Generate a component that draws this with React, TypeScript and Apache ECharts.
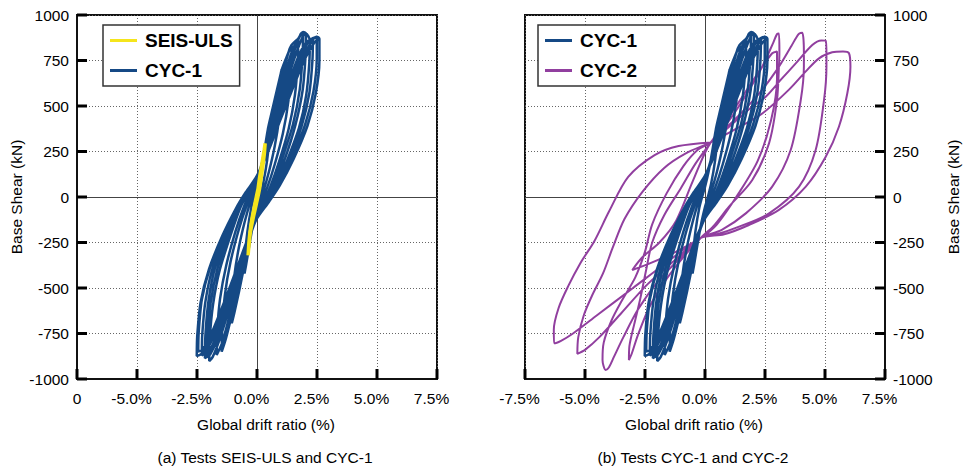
import React, { useEffect, useRef } from 'react';
import * as echarts from 'echarts';

const FONT = '"Liberation Sans", Arial, Helvetica, sans-serif';

// ---- ticks ----
const xTickValues = [-7.5, -5, -2.5, 0, 2.5, 5, 7.5];
const yTickValues = [-1000, -750, -500, -250, 0, 250, 500, 750, 1000];
const xTicksLeft = ['0', '-5.0%', '-2.5%', '0.0%', '2.5%', '5.0%', '7.5%'];
const xTicksRight = ['-7.5%', '-5.0%', '-2.5%', '0.0%', '2.5%', '5.0%', '7.5%'];
const yTicks = ['-1000', '-750', '-500', '-250', '0', '250', '500', '750', '1000'];

// ---- SEIS-ULS (drift %, base shear kN) ----
const seisUls: number[][] = [
  [0, 0], [0.1, 100], [0.2, 180], [0.3, 260], [0.34, 295], [0.3, 230], [0.2, 130], [0.1, 40],
  [-0.03, -40], [-0.15, -110], [-0.27, -190], [-0.33, -260], [-0.37, -320], [-0.33, -240],
  [-0.25, -150], [-0.14, -70], [-0.03, 0], [0.1, 80], [0.22, 170], [0.32, 270],
];

// ---- CYC-1 loops ----
const cyc1Loop1: number[][] = [
  [0.55, 430], [0.52, 330], [0.42, 200], [0.25, 70], [0.08, -20], [0, -55], [-0.15, -140], [-0.3, -250],
  [-0.45, -370], [-0.52, -420], [-0.5, -320], [-0.4, -190], [-0.24, -60], [-0.08, 20], [0, 55],
  [0.15, 140], [0.3, 250], [0.45, 370], [0.55, 430],
];
const cyc1Loop2: number[][] = [
  [1.03, 700], [1.01, 580], [0.92, 430], [0.74, 280], [0.5, 140], [0.25, 25], [0, -65], [-0.25, -200],
  [-0.5, -360], [-0.75, -520], [-0.95, -640], [-1.05, -694], [-1.03, -580], [-0.94, -430], [-0.76, -280],
  [-0.52, -140], [-0.27, -25], [0, 65], [0.25, 200], [0.5, 360], [0.75, 520], [0.95, 650], [1.03, 700],
];
const cyc1Loop3: number[][] = [
  [1.44, 835], [1.42, 710], [1.31, 530], [1.08, 350], [0.74, 180], [0.42, 50], [0.15, -35], [0, -85],
  [-0.3, -220], [-0.65, -420], [-1.0, -620], [-1.3, -780], [-1.47, -850], [-1.45, -725], [-1.34, -540],
  [-1.1, -355], [-0.76, -180], [-0.44, -50], [-0.16, 35], [0, 90], [0.3, 230], [0.65, 430], [1.0, 630],
  [1.3, 790], [1.44, 835],
];
const cyc1Loop4: number[][] = [
  [1.72, 870], [1.7, 745], [1.58, 560], [1.32, 375], [0.92, 195], [0.55, 55], [0.25, -35], [0, -100],
  [-0.32, -235], [-0.7, -430], [-1.1, -630], [-1.45, -800], [-1.68, -868], [-1.66, -740], [-1.54, -560],
  [-1.28, -375], [-0.9, -190], [-0.55, -55], [-0.25, 35], [0, 100], [0.32, 240], [0.7, 440], [1.1, 640],
  [1.45, 800], [1.72, 870],
];
const cyc1Loop5: number[][] = [
  [1.92, 906], [1.9, 780], [1.78, 590], [1.5, 400], [1.05, 210], [0.65, 60], [0.3, -30], [0, -110],
  [-0.35, -240], [-0.75, -430], [-1.15, -610], [-1.55, -780], [-1.85, -880], [-1.99, -901], [-1.97, -780],
  [-1.83, -590], [-1.55, -400], [-1.1, -210], [-0.7, -60], [-0.35, 30], [0, 110], [0.35, 240], [0.72, 430],
  [1.1, 610], [1.5, 780], [1.8, 890], [1.92, 906],
];
const cyc1Loop6: number[][] = [
  [2.04, 899], [2.02, 770], [1.9, 585], [1.6, 395], [1.15, 205], [0.7, 60], [0.35, -30], [0, -112],
  [-0.37, -242], [-0.78, -430], [-1.22, -615], [-1.65, -780], [-1.95, -865], [-2.08, -880], [-2.06, -770],
  [-1.93, -580], [-1.65, -395], [-1.18, -208], [-0.74, -60], [-0.37, 30], [0, 112], [0.37, 242], [0.78, 430],
  [1.2, 615], [1.62, 785], [1.92, 885], [2.04, 899],
];
const cyc1Loop7: number[][] = [
  [2.2, 862], [2.18, 740], [2.05, 560], [1.75, 380], [1.25, 200], [0.78, 60], [0.4, -30], [0, -115],
  [-0.38, -245], [-0.82, -430], [-1.3, -620], [-1.75, -780], [-2.05, -870], [-2.17, -886], [-2.15, -760],
  [-2.02, -570], [-1.75, -390], [-1.25, -205], [-0.78, -60], [-0.4, 30], [0, 115], [0.38, 245], [0.82, 430],
  [1.3, 620], [1.75, 780], [2.05, 850], [2.2, 862],
];
const cyc1Loop8: number[][] = [
  [2.33, 873], [2.31, 750], [2.18, 570], [1.86, 390], [1.33, 205], [0.83, 62], [0.43, -28], [0, -115],
  [-0.4, -245], [-0.86, -425], [-1.35, -610], [-1.83, -770], [-2.15, -855], [-2.3, -870], [-2.28, -755],
  [-2.15, -575], [-1.85, -390], [-1.32, -205], [-0.83, -62], [-0.43, 28], [0, 115], [0.4, 240], [0.86, 420],
  [1.35, 605], [1.83, 770], [2.15, 855], [2.33, 873],
];
const cyc1Loop9: number[][] = [
  [2.49, 881], [2.49, 762], [2.35, 579], [2.0, 396], [1.44, 212], [0.89, 66], [0.47, -26], [0, -115],
  [-0.4, -240], [-0.9, -420], [-1.4, -600], [-1.9, -760], [-2.3, -860], [-2.51, -874], [-2.49, -762],
  [-2.35, -579], [-2.0, -396], [-1.44, -212], [-0.89, -66], [-0.47, 26], [0, 115], [0.4, 240], [0.9, 420],
  [1.4, 600], [1.9, 760], [2.3, 860], [2.49, 881],
];
const cyc1Loop10: number[][] = [
  [2.6, 870], [2.6, 750], [2.45, 570], [2.1, 390], [1.52, 208], [0.95, 64], [0.5, -26], [0, -118],
  [-0.42, -242], [-0.92, -420], [-1.42, -595], [-1.9, -750], [-2.25, -835], [-2.45, -850], [-2.43, -745],
  [-2.3, -565], [-1.95, -385], [-1.4, -205], [-0.87, -62], [-0.45, 28], [0, 118], [0.45, 245], [0.98, 425],
  [1.5, 600], [2.0, 760], [2.4, 850], [2.6, 870],
];

// ---- CYC-2 loops ----
const cyc2Loop1: number[][] = [
  [0.24, 300], [1.0, 420], [1.8, 580], [2.4, 720], [2.85, 850], [3.0, 895], [3.08, 899],
  [3.1, 800], [3.08, 716], [3.0, 533], [2.67, 296], [1.97, 93], [1.0, -53], [0.35, -160], [-0.18, -225],
  [-0.9, -330], [-1.6, -450], [-2.3, -600], [-2.8, -760], [-3.05, -860], [-3.17, -896],
  [-3.15, -820], [-2.95, -700], [-2.7, -560], [-2.45, -400], [-2.2, -250], [-1.7, -100], [-1.0, 50],
  [-0.39, 185], [0.24, 300],
];
const cyc2Loop1b: number[][] = [
  [0.24, 300], [1.2, 480], [2.2, 680], [2.8, 790], [3.0, 800], [3.0, 650], [2.75, 420], [2.2, 200],
  [1.4, 20], [0.5, -150], [-0.18, -225], [-1.2, -300], [-2.3, -365], [-3.03, -401], [-2.6, -330],
  [-1.9, -250], [-1.2, -130], [-0.5, 90], [0.24, 300],
];
const cyc2Loop2: number[][] = [
  [0.24, 300], [1.2, 420], [2.2, 560], [3.0, 700], [3.6, 830], [3.9, 895], [4.05, 903],
  [4.12, 800], [4.12, 716], [3.99, 533], [3.57, 258], [2.8, 57], [1.7, -90], [0.7, -180], [-0.18, -225],
  [-1.0, -330], [-2.0, -470], [-2.8, -620], [-3.4, -770], [-3.8, -880], [-4.0, -935], [-4.14, -950],
  [-4.27, -895], [-4.22, -800], [-3.9, -680], [-3.45, -566], [-2.9, -440], [-2.5, -300],
  [-2.2, -150], [-1.6, 20], [-0.9, 170], [-0.3, 260], [0.24, 300],
];
const cyc2Loop3: number[][] = [
  [0.24, 300], [1.3, 420], [2.0, 500], [2.53, 551], [3.2, 650], [3.78, 734], [4.47, 835], [4.85, 860],
  [5.03, 859], [5.06, 780], [5.06, 716], [4.96, 533], [4.61, 258], [3.92, 57], [2.67, -90], [1.42, -163],
  [0.5, -205], [-0.18, -225], [-1.2, -340], [-2.4, -480], [-3.5, -640], [-4.4, -770], [-5.0, -840],
  [-5.32, -862], [-5.28, -770], [-5.05, -650], [-4.7, -540], [-4.25, -420], [-3.85, -280], [-3.35, -120],
  [-2.6, 30], [-1.7, 160], [-0.8, 240], [0.24, 300],
];
const cyc2Loop4: number[][] = [
  [0.24, 300], [1.5, 390], [2.4, 460], [3.5, 590], [4.2, 690], [4.75, 762], [5.3, 795], [5.75, 800],
  [6.0, 790], [6.06, 716], [5.93, 570], [5.58, 386], [5.03, 221], [4.2, 57], [3.08, -71], [1.83, -154],
  [0.8, -205], [-0.18, -225], [-1.5, -350], [-3.0, -500], [-4.5, -650], [-5.5, -750], [-6.0, -790],
  [-6.29, -804], [-6.3, -730], [-6.1, -610], [-5.7, -490], [-5.2, -365], [-4.6, -240], [-4.0, -80],
  [-3.2, 110], [-2.1, 230], [-1.1, 280], [0.24, 300],
];

const cyc1 = [
  ...cyc1Loop1, ...cyc1Loop2, ...cyc1Loop3, ...cyc1Loop4, ...cyc1Loop5,
  ...cyc1Loop6, ...cyc1Loop7, ...cyc1Loop8, ...cyc1Loop9, ...cyc1Loop10,
];
const cyc2 = [...cyc2Loop1, ...cyc2Loop1b, ...cyc2Loop2, ...cyc2Loop3, ...cyc2Loop4];

const BLUE = '#154985';
const PURPLE = '#913f9f';
const YELLOW = '#f5e51c';

function labelIndex(v: number, min: number, step: number) {
  return Math.round((v - min) / step);
}

export default function App() {
  const ref = useRef<HTMLDivElement>(null);
  useEffect(() => {
    if (!ref.current) return;
    const chart = echarts.init(ref.current, undefined, { renderer: 'svg' });

    const mkAxisLine = () => ({ show: true, onZero: false, lineStyle: { color: '#111', width: 2 } });
    const xAxisBase = (gridIndex: number, labels: string[]) => ({
      type: 'value',
      gridIndex,
      min: -7.5,
      max: 7.5,
      interval: 2.5,
      axisLine: mkAxisLine(),
      axisTick: { show: false },
      axisLabel: {
        margin: 11,
        color: '#000',
        fontSize: 15.5,
        fontFamily: FONT,
        formatter: (v: number) => {
          const t = labels[labelIndex(v, -7.5, 2.5)];
          return t === '0' ? '{z|' + t + '}' : '{p|' + t + '}';
        },
        rich: {
          p: { fontSize: 15.5, fontFamily: FONT, color: '#000', padding: [0, 11, 0, 0] },
          z: { fontSize: 15.5, fontFamily: FONT, color: '#000' },
        },
      },
      splitLine: { show: true, lineStyle: { color: '#666', width: 1, type: [1, 2] } },
    });
    const yAxisBase = (gridIndex: number, position: string) => ({
      type: 'value',
      gridIndex,
      position,
      min: -1000,
      max: 1000,
      interval: 250,
      axisLine: mkAxisLine(),
      axisTick: { show: false },
      axisLabel: {
        margin: 8,
        color: '#000',
        fontSize: 15.5,
        fontFamily: FONT,
        formatter: (v: number) => yTicks[labelIndex(v, -1000, 250)],
      },
      splitLine: { show: true, lineStyle: { color: '#666', width: 1, type: [1, 2] } },
    });

    const zeroLines = {
      silent: true,
      symbol: 'none',
      z: 1,
      animation: false,
      label: { show: false },
      lineStyle: { color: '#444', width: 1, type: 'solid' },
      data: [{ xAxis: 0 }, { yAxis: 0 }],
    };

    // tick marks drawn through the axes' own scales (inward, 10px)
    const tickSeries = (gi: number, axis: 'x' | 'y', side: 'left' | 'right') => ({
      type: 'custom',
      xAxisIndex: gi,
      yAxisIndex: gi,
      silent: true,
      z: 4,
      clip: false,
      data: (axis === 'x' ? xTickValues : yTickValues).map((v) => [v]),
      renderItem: (params: any, api: any) => {
        const v = api.value(0);
        let p: number[];
        let q: number[];
        if (axis === 'x') {
          p = api.coord([v, -1000]);
          q = [p[0], p[1] - 10];
        } else if (side === 'left') {
          p = api.coord([-7.5, v]);
          q = [p[0] + 10, p[1]];
        } else {
          p = api.coord([7.5, v]);
          q = [p[0] - 10, p[1]];
        }
        return {
          type: 'line',
          shape: { x1: p[0], y1: p[1], x2: q[0], y2: q[1] },
          style: { stroke: '#000', lineWidth: 3 },
        };
      },
    });

    const legendBase = {
      orient: 'vertical',
      top: 25,
      icon: 'rect',
      itemWidth: 27,
      itemHeight: 3,
      itemGap: 11,
      selectedMode: false,
      backgroundColor: '#fff',
      borderColor: '#333',
      borderWidth: 1.5,
      borderRadius: 0,
      textStyle: { fontFamily: FONT, fontSize: 19, fontWeight: 'bold', color: '#000', padding: [0, 0, 0, 3] },
    };

    const txt = (text: string, x: number, y: number, rot = 0) => ({
      type: 'text',
      x,
      y,
      rotation: rot,
      silent: true,
      style: {
        text,
        fontSize: 15.5,
        fontFamily: FONT,
        fill: '#000',
        align: 'center',
        verticalAlign: 'middle',
      },
    });

    chart.setOption({
      animation: false,
      backgroundColor: '#fff',
      grid: [
        { left: 77, top: 15, width: 360, height: 364, show: true, borderColor: '#111', borderWidth: 2 },
        { left: 525, top: 15, width: 360, height: 364, show: true, borderColor: '#111', borderWidth: 2 },
      ],
      xAxis: [xAxisBase(0, xTicksLeft), xAxisBase(1, xTicksRight)],
      yAxis: [yAxisBase(0, 'left'), yAxisBase(1, 'right')],
      legend: [
        { ...legendBase, left: 103, padding: [6, 7, 6, 7], data: ['SEIS-ULS', 'CYC-1'] },
        { ...legendBase, left: 538, padding: [6, 38, 6, 7], data: ['CYC-1', 'CYC-2'] },
      ],
      graphic: [
        txt('Base Shear (kN)', 16, 197, Math.PI / 2),
        txt('Base Shear (kN)', 953, 197, Math.PI / 2),
        txt('Global drift ratio (%)', 266, 424),
        txt('Global drift ratio (%)', 694, 424),
        txt('(a) Tests SEIS-ULS and CYC-1', 265, 457),
        txt('(b) Tests CYC-1 and CYC-2', 693, 457),
      ],
      series: [
        {
          name: 'CYC-1', type: 'line', xAxisIndex: 0, yAxisIndex: 0, data: cyc1,
          symbol: 'none', showSymbol: false, smooth: 0.25, z: 2, color: BLUE,
          lineStyle: { color: BLUE, width: 2.5 }, markLine: zeroLines,
        },
        {
          name: 'SEIS-ULS', type: 'line', xAxisIndex: 0, yAxisIndex: 0, data: seisUls,
          symbol: 'none', showSymbol: false, smooth: 0.25, z: 3, color: YELLOW,
          lineStyle: { color: YELLOW, width: 3.5 },
        },
        {
          name: 'CYC-2', type: 'line', xAxisIndex: 1, yAxisIndex: 1, data: cyc2,
          symbol: 'none', showSymbol: false, smooth: 0.3, z: 2, color: PURPLE,
          lineStyle: { color: PURPLE, width: 2 }, markLine: zeroLines,
        },
        {
          name: 'CYC-1', type: 'line', xAxisIndex: 1, yAxisIndex: 1, data: cyc1,
          symbol: 'none', showSymbol: false, smooth: 0.25, z: 3, color: BLUE,
          lineStyle: { color: BLUE, width: 2.5 },
        },
        tickSeries(0, 'x', 'left'),
        tickSeries(0, 'y', 'left'),
        tickSeries(1, 'x', 'right'),
        tickSeries(1, 'y', 'right'),
      ],
    });
    return () => chart.dispose();
  }, []);
  return (
    <div
      ref={ref}
      style={{ position: 'fixed', left: 0, top: 0, width: 964, height: 469, background: '#fff' }}
    />
  );
}
